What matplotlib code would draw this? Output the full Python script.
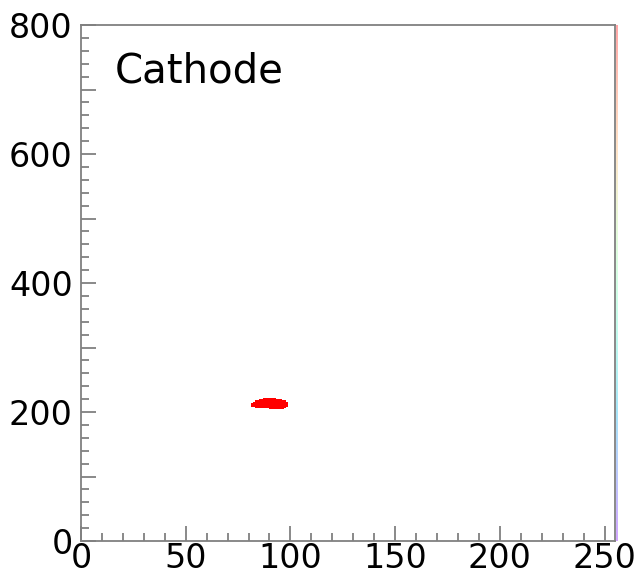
import numpy as np
import matplotlib.pyplot as plt

# filled region of the 2D histogram: one row per 2-unit y bin,
# with the first and last occupied x bin in that row
row_y = [204, 206, 208, 210, 212, 214, 216, 218, 220]
row_xlo = [90, 83, 81, 81, 81, 82, 83, 85, 87]
row_xhi = [97, 98, 99, 99, 99, 99, 98, 96, 93]
row_counts = [1, 1, 1, 1, 1, 1, 1, 1, 1]

nx, ny = 255, 400
x_edges = np.linspace(0, 255, nx + 1)
y_edges = np.linspace(0, 800, ny + 1)
counts = np.zeros((ny, nx))
for y, lo, hi, c in zip(row_y, row_xlo, row_xhi, row_counts):
    iy = int(y // 2)
    counts[iy, lo:hi] = c
hist = np.ma.masked_equal(counts, 0)

fig = plt.figure(figsize=(6.35, 5.79), dpi=100)
ax = fig.add_axes([81 / 635, 38 / 579, 534 / 635, 516 / 579])

ax.pcolormesh(x_edges, y_edges, hist, cmap='rainbow', vmin=0, vmax=1)

ax.set_xlim(0, 255)
ax.set_ylim(0, 800)

ax.set_xticks(np.arange(0, 251, 50))
ax.set_xticks(np.arange(0, 256, 10), minor=True)
ax.set_yticks(np.arange(0, 801, 100))
ax.set_yticklabels([str(v) if v % 200 == 0 else '' for v in range(0, 801, 100)])
ax.set_yticks(np.arange(0, 801, 20), minor=True)

tick_grey = '#808080'
ax.tick_params(which='both', direction='in', color=tick_grey, width=1.3,
               labelsize=24, top=False, right=False)
ax.tick_params(which='major', length=11)
ax.tick_params(which='minor', length=6)
ax.tick_params(axis='x', pad=1)
ax.tick_params(axis='y', pad=6)
for s in ax.spines.values():
    s.set_color(tick_grey)
    s.set_linewidth(1.3)

ax.text(0.064, 0.91, 'Cathode', transform=ax.transAxes, fontsize=29,
        ha='left', va='center')

# palette strip along the right edge
cax = fig.add_axes([615.5 / 635, 38 / 579, 2 / 635, 516 / 579])
grad = np.linspace(0, 1, 256).reshape(-1, 1)
cax.imshow(grad, aspect='auto', origin='lower', cmap='rainbow', alpha=0.35,
           extent=[0, 1, 0, 1])
cax.set_axis_off()

fig.savefig('out.png', dpi=100)
